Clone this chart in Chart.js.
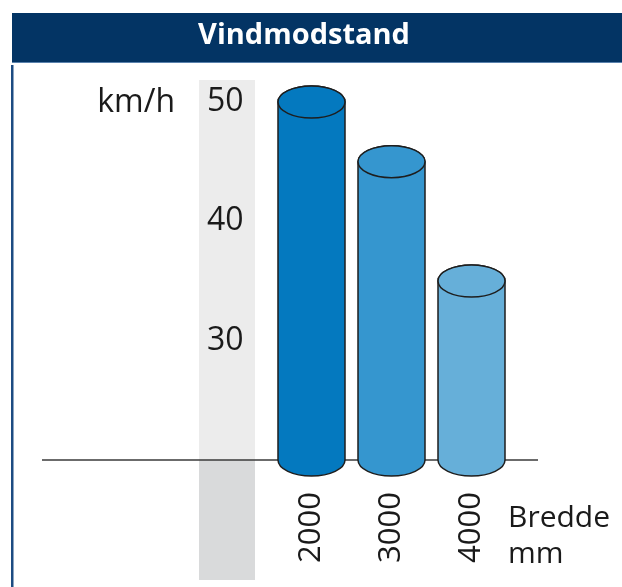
<!DOCTYPE html>
<html><head><meta charset="utf-8">
<script src="https://cdn.jsdelivr.net/npm/chart.js@4/dist/chart.umd.min.js"></script>
<style>html,body{margin:0;padding:0;background:#fff;overflow:hidden}</style>
</head><body>
<canvas id="c" width="622" height="587"></canvas>
<script>
// ---- data ----
const categories = ['2000', '3000', '4000'];
const windSpeed = [50, 45, 35];
const yTickValues = [30, 40, 50];
const yMin = 20, yMax = 50;
const titleText = 'Vindmodstand';
const yUnit = 'km/h';
const xUnit = ['Bredde', 'mm'];

// ---- styles ----
const barColors = ['#0479bf', '#3596cf', '#66afd9'];
const FONT = "'Open Sans', sans-serif";
const TXT = '#1a1a1a';

const decor = {
  id: 'decor',
  beforeDraw(chart) {
    const ctx = chart.ctx, a = chart.chartArea, tb = chart.titleBlock;
    ctx.save();
    ctx.fillStyle = '#033464';
    ctx.fillRect(12, tb.top, chart.width - 12, 49);
    ctx.fillStyle = '#5a82ad';
    ctx.fillRect(12, tb.top + 49, chart.width - 12, 1);
    ctx.fillStyle = '#1d4c82';
    ctx.fillRect(11, tb.top + 52, 2.5, chart.height);
    const bx = a.left - 72.5, bw = 56, btop = a.top - 22;
    ctx.fillStyle = '#ececec';
    ctx.fillRect(bx, btop, bw, a.bottom - btop);
    ctx.fillStyle = '#d9dadb';
    ctx.fillRect(bx, a.bottom, bw, 120);
    ctx.restore();
  },
  beforeDatasetsDraw(chart) {
    const ctx = chart.ctx, a = chart.chartArea;
    ctx.save();
    ctx.strokeStyle = '#3a3a3a';
    ctx.lineWidth = 1.3;
    ctx.beginPath();
    ctx.moveTo(a.left - 229.5, a.bottom);
    ctx.lineTo(a.right + 26.5, a.bottom);
    ctx.stroke();
    ctx.restore();
  },
  afterDatasetsDraw(chart) {
    const ctx = chart.ctx;
    const meta = chart.getDatasetMeta(0);
    ctx.save();
    ctx.lineWidth = 1.5;
    ctx.strokeStyle = '#1e1e1e';
    meta.data.forEach((el, i) => {
      const p = el.getProps(['x', 'y', 'width', 'base'], true);
      const rx = p.width / 2, ry = 16;
      const l = p.x - rx, r = p.x + rx;
      ctx.fillStyle = barColors[i % barColors.length];
      ctx.beginPath();
      ctx.moveTo(l, p.y);
      ctx.lineTo(l, p.base);
      ctx.ellipse(p.x, p.base, rx, ry, 0, Math.PI, 0, true);
      ctx.lineTo(r, p.y);
      ctx.ellipse(p.x, p.y, rx, ry, 0, 0, Math.PI, true);
      ctx.closePath();
      ctx.fill();
      ctx.stroke();
      ctx.beginPath();
      ctx.ellipse(p.x, p.y, rx, ry, 0, 0, Math.PI * 2);
      ctx.fill();
      ctx.stroke();
    });
    ctx.restore();
  },
  afterDraw(chart) {
    const ctx = chart.ctx, a = chart.chartArea, ys = chart.scales.y;
    ctx.save();
    ctx.fillStyle = TXT;
    ctx.font = `32px ${FONT}`;
    ctx.textAlign = 'right';
    ctx.textBaseline = 'middle';
    ctx.fillText(yUnit, a.left - 96.5, ys.getPixelForValue(yMax) + 1);
    ctx.font = `30px ${FONT}`;
    ctx.textAlign = 'left';
    ctx.textBaseline = 'alphabetic';
    ctx.fillText(xUnit[0], a.right - 3.5, a.bottom + 67);
    ctx.fillText(xUnit[1], a.right - 3.5, a.bottom + 103);
    ctx.restore();
  }
};

new Chart(document.getElementById('c'), {
  type: 'bar',
  data: {
    labels: categories,
    datasets: [{
      data: windSpeed,
      base: yMin,
      backgroundColor: 'rgba(0,0,0,0)',
      borderWidth: 0,
      categoryPercentage: 1,
      barPercentage: 67 / 80
    }]
  },
  options: {
    responsive: false,
    devicePixelRatio: 1,
    animation: false,
    layout: { padding: { top: 13, left: 0, right: 14, bottom: 0 } },
    plugins: {
      legend: { display: false },
      tooltip: { enabled: false },
      title: {
        display: true,
        text: titleText,
        color: '#ffffff',
        font: { family: FONT, size: 29, weight: 'bold' },
        padding: { top: 5.6, bottom: 48.6 }
      }
    },
    scales: {
      x: {
        type: 'category',
        grid: { display: false, drawTicks: false },
        border: { display: false },
        ticks: {
          minRotation: 90, maxRotation: 90, autoSkip: false,
          padding: 32, color: TXT,
          font: { family: FONT, size: 31 }
        },
        afterFit(s) { s.height = 127; }
      },
      y: {
        type: 'linear',
        position: 'left',
        min: yMin, max: yMax,
        grid: { display: false, drawTicks: false },
        border: { display: false },
        afterBuildTicks(s) { s.ticks = yTickValues.map(v => ({ value: v })); },
        ticks: { padding: 28, color: TXT, font: { family: FONT, size: 32 } },
        afterFit(s) { s.width = 271.5; }
      },
      y2: {
        type: 'linear',
        axis: 'y',
        position: 'right',
        display: true,
        grid: { display: false, drawTicks: false },
        border: { display: false },
        ticks: { display: false },
        afterFit(s) { s.width = 96.5; }
      }
    }
  },
  plugins: [decor]
});
</script>
</body></html>
